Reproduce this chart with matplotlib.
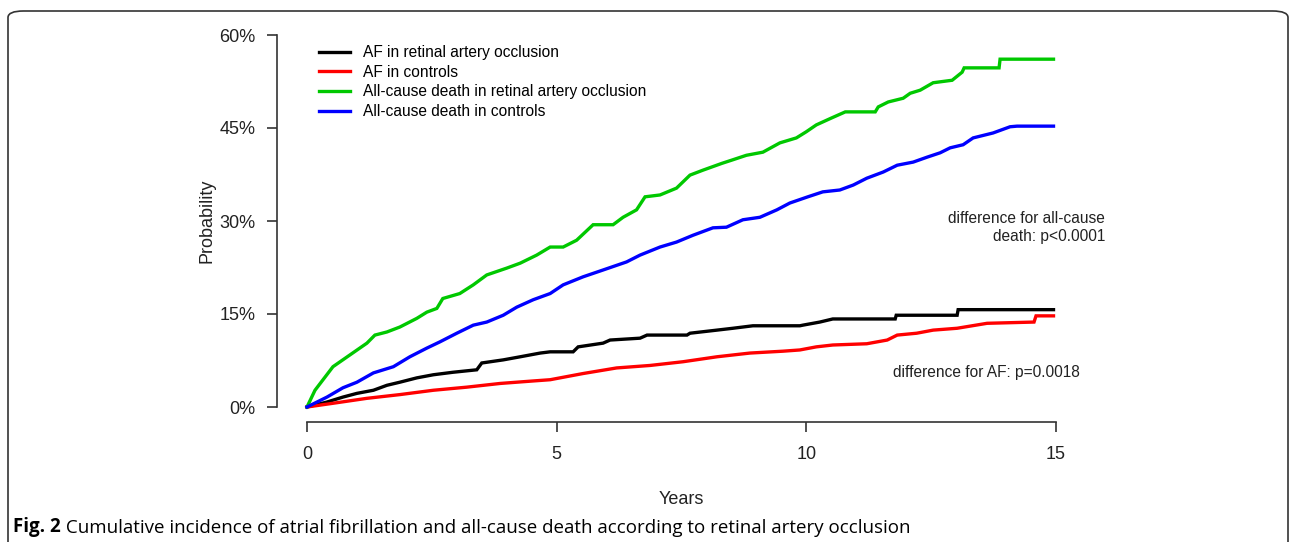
import matplotlib.pyplot as plt
from matplotlib.patches import FancyBboxPatch

plt.rcParams['font.family'] = ['Liberation Sans', 'DejaVu Sans']

# values (years, cumulative %); repeated x = visible step
af_rao_t = [0, 0.4, 0.72, 1.0, 1.33, 1.6, 1.86, 2.2, 2.53, 2.92, 3.4, 3.5, 3.93, 4.27, 4.67, 4.87,
            5.33, 5.43, 5.93, 6.07, 6.67, 6.81, 7.61, 7.67, 8.21, 8.53, 8.93, 9.87, 9.93, 10.27,
            10.53, 11.78, 11.8, 13.02, 13.04, 14.95]
af_rao_p = [0, 0.8, 1.6, 2.2, 2.7, 3.5, 4.0, 4.7, 5.2, 5.6, 6.0, 7.1, 7.6, 8.1, 8.7, 8.9,
            8.9, 9.7, 10.3, 10.8, 11.1, 11.6, 11.6, 11.9, 12.4, 12.7, 13.1, 13.1, 13.2, 13.7,
            14.2, 14.2, 14.8, 14.8, 15.7, 15.7]

af_ctl_t = [0, 0.52, 1.2, 1.86, 2.53, 3.2, 3.87, 4.53, 4.87, 5.53, 6.2, 6.87, 7.53, 8.21, 8.87,
            9.53, 9.87, 10.2, 10.53, 11.21, 11.62, 11.82, 12.21, 12.54, 13.02, 13.62, 14.56, 14.6,
            14.95]
af_ctl_p = [0, 0.6, 1.4, 2.0, 2.7, 3.2, 3.8, 4.2, 4.4, 5.4, 6.3, 6.7, 7.3, 8.1, 8.7,
            9.0, 9.2, 9.7, 10.0, 10.2, 10.8, 11.6, 11.9, 12.4, 12.7, 13.5, 13.7, 14.7,
            14.7]

dth_rao_t = [0, 0.16, 0.52, 0.86, 1.2, 1.36, 1.6, 1.86, 2.2, 2.4, 2.6, 2.72, 3.06, 3.33, 3.6, 4.0,
             4.27, 4.6, 4.87, 5.13, 5.4, 5.73, 6.13, 6.33, 6.6, 6.77, 7.07, 7.4, 7.67, 7.93, 8.31,
             8.5, 8.8, 9.13, 9.47, 9.8, 10.0, 10.2, 10.5, 10.78, 11.38, 11.44, 11.64, 11.94, 12.08,
             12.28, 12.54, 12.92, 13.12, 13.16, 13.86, 13.88, 14.95]
dth_rao_p = [0, 2.7, 6.5, 8.4, 10.3, 11.6, 12.1, 12.9, 14.3, 15.3, 15.9, 17.5, 18.3, 19.7, 21.3, 22.4,
             23.2, 24.5, 25.8, 25.8, 26.9, 29.4, 29.4, 30.6, 31.8, 33.9, 34.2, 35.3, 37.4, 38.2, 39.3,
             39.8, 40.6, 41.1, 42.6, 43.4, 44.4, 45.5, 46.6, 47.6, 47.6, 48.4, 49.2, 49.8, 50.6,
             51.1, 52.3, 52.7, 54.0, 54.7, 54.7, 56.1, 56.1]

dth_ctl_t = [0, 0.4, 0.72, 1.0, 1.33, 1.73, 2.06, 2.4, 2.66, 3.0, 3.33, 3.6, 3.93, 4.2, 4.53, 4.87,
             5.13, 5.53, 5.93, 6.4, 6.67, 7.07, 7.4, 7.73, 8.13, 8.4, 8.73, 9.07, 9.41, 9.67, 10.03,
             10.33, 10.67, 10.94, 11.21, 11.54, 11.82, 12.14, 12.42, 12.68, 12.88, 13.14, 13.34,
             13.74, 14.08, 14.22, 14.95]
dth_ctl_p = [0, 1.6, 3.1, 4.0, 5.5, 6.5, 8.1, 9.5, 10.5, 11.9, 13.2, 13.7, 14.8, 16.1, 17.3, 18.3,
             19.7, 21.0, 22.1, 23.4, 24.5, 25.8, 26.6, 27.7, 28.9, 29.0, 30.2, 30.6, 31.8, 32.9, 33.9,
             34.7, 35.0, 35.8, 36.9, 37.9, 39.0, 39.5, 40.3, 41.0, 41.8, 42.3, 43.4,
             44.2, 45.2, 45.3, 45.3]

series = [
    (af_rao_t, af_rao_p, 'black', 'AF in retinal artery occlusion'),
    (af_ctl_t, af_ctl_p, '#ff0000', 'AF in controls'),
    (dth_rao_t, dth_rao_p, '#00c800', 'All-cause death in retinal artery occlusion'),
    (dth_ctl_t, dth_ctl_p, '#0000ff', 'All-cause death in controls'),
]

x_ticks = [0, 5, 10, 15]
y_ticks = [0, 15, 30, 45, 60]
y_labels = ['0%', '15%', '30%', '45%', '60%']

W, H = 1290, 542
fig = plt.figure(figsize=(W / 100, H / 100), dpi=100)
ax = fig.add_axes([307 / W, 1 - 407 / H, (1056 - 307) / W, (407 - 35) / H])

for t, p, c, lab in series:
    ax.plot(t, p, color=c, lw=2.4, label=lab, clip_on=False, solid_joinstyle='miter')

ax.set_xlim(0, 15)
ax.set_ylim(0, 60)
ax.set_xticks(x_ticks)
ax.set_yticks(y_ticks)
ax.set_yticklabels(y_labels)

axis_col = '#333333'
txt_col = '#222222'
for side in ['top', 'right']:
    ax.spines[side].set_visible(False)
ax.spines['left'].set_position(('outward', 21.6))
ax.spines['bottom'].set_position(('outward', 10.8))
ax.spines['left'].set_bounds(0, 60)
ax.spines['bottom'].set_bounds(0, 15)
for side in ['left', 'bottom']:
    ax.spines[side].set_color(axis_col)
    ax.spines[side].set_linewidth(1.2)
ax.tick_params(axis='both', length=7.5, width=1.2, color=axis_col, labelcolor=txt_col,
               labelsize=13)
ax.tick_params(axis='y', pad=8)
ax.tick_params(axis='x', pad=10)

ax.set_xlabel('Years', fontsize=13, color=txt_col, labelpad=20)
ax.set_ylabel('Probability', fontsize=13, color=txt_col, labelpad=3)

ax.text(15.98, 29.0, 'difference for all-cause\ndeath: p<0.0001', ha='right', va='center',
        fontsize=11.2, color=txt_col, linespacing=1.25)
ax.text(13.6, 5.6, 'difference for AF: p=0.0018', ha='center', va='center',
        fontsize=11.2, color=txt_col)

ax.legend(loc='upper left', bbox_to_anchor=(319 / W, 1 - 45 / H), bbox_transform=fig.transFigure,
          frameon=False, fontsize=11.2, handlelength=2.0, handletextpad=0.85,
          labelspacing=0.3, borderpad=0, borderaxespad=0)

# outer frame (open at bottom) and caption
frame = FancyBboxPatch((8 / W, -0.1), (1288 - 8) / W, 1 - 11 / H + 0.1,
                       boxstyle='round,pad=0,rounding_size=0.012', transform=fig.transFigure,
                       fill=False, edgecolor='#333333', linewidth=1.2, clip_on=False)
fig.patches.append(frame)

cap1 = fig.text(13 / W, 1 - 527 / H, 'Fig. 2', family='Open Sans', fontweight='bold',
                fontsize=13.5, va='center', ha='left')
ax.annotate(' Cumulative incidence of atrial fibrillation and all-cause death according to retinal artery occlusion',
            xy=(1, 0), xycoords=cap1, va='bottom', ha='left', family='Open Sans',
            fontsize=13.5, annotation_clip=False)

fig.savefig('out.png', dpi=100)
